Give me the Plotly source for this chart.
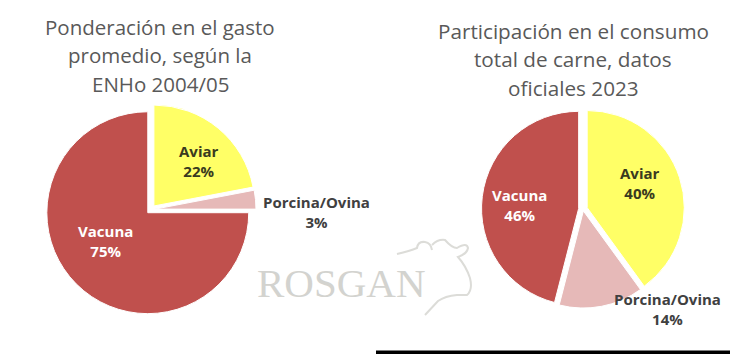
import plotly.graph_objects as go

W, H = 730, 354
categories = ["Aviar", "Porcina/Ovina", "Vacuna"]
values_left = [22, 3, 75]
values_right = [40, 14, 46]
title_left = ["Ponderación en el gasto", "promedio, según la", "ENHo 2004/05"]
title_right = ["Participación en el consumo", "total de carne, datos", "oficiales 2023"]
colors = ["#FFFF66", "#E6B9B8", "#C0504D"]
label_colors = ["#3A3A1E", "#404040", "#FFFFFF"]
pull_left = [0.045, 0.04, 0.045]
pull_right = [0.045, 0.02, 0.045]
label_pos_left = [(199, 161), (316, 212), (105, 241)]
label_pos_right = [(640, 183), (667, 309), (519, 205)]


def dom(cx, cy, half):
    return dict(x=[(cx - half) / W, (cx + half) / W],
                y=[1 - (cy + half) / H, 1 - (cy - half) / H])


fig = go.Figure()
for vals, d, pull in [(values_left, dom(151, 209.5, 105.5), pull_left),
                      (values_right, dom(583, 209, 101.5), pull_right)]:
    fig.add_trace(go.Pie(labels=categories, values=vals, domain=d, pull=pull,
                         sort=False, direction="clockwise", rotation=0,
                         textinfo="none", hoverinfo="label+percent",
                         marker=dict(colors=colors, line=dict(color="#FFFFFF", width=1)),
                         showlegend=False))

ann = []
for vals, pos in [(values_left, label_pos_left), (values_right, label_pos_right)]:
    for cat, v, (x, y), c in zip(categories, vals, pos, label_colors):
        ann.append(dict(text=f"<b>{cat}<br>{v}%</b>", x=x / W, y=1 - y / H, xref="paper", yref="paper",
                        xanchor="center", yanchor="middle", showarrow=False,
                        font=dict(family="Open Sans", size=15, color=c)))
for lines, x, ys, size in [(title_left, 160, (27, 55, 84), 20.5), (title_right, 573, (31, 59, 88), 20.7)]:
    for txt, y in zip(lines, ys):
        ann.append(dict(text=txt, x=x / W, y=1 - y / H, xref="paper", yref="paper", xanchor="center",
                        yanchor="middle", showarrow=False, align="center",
                        font=dict(family="Open Sans", size=size, color="#595959")))
ann.append(dict(text="ROSGAN", x=341 / W, y=1 - 283 / H, xref="paper", yref="paper", xanchor="center",
                yanchor="middle", showarrow=False,
                font=dict(family="Liberation Serif", size=41, color="#D3D3CF")))


def px(x, y):
    return f"{x / W:.4f},{1 - y / H:.4f}"


cow = ("M " + px(397, 254) + " Q " + px(410, 251) + " " + px(417, 248)
       + " Q " + px(418, 241) + " " + px(425, 242) + " Q " + px(431, 243) + " " + px(432, 250)
       + " M " + px(432, 245) + " Q " + px(438, 239) + " " + px(445, 240) + " Q " + px(452, 248) + " " + px(457, 248)
       + " Q " + px(467, 242) + " " + px(468, 248) + " Q " + px(467, 254) + " " + px(458, 257)
       + " Q " + px(466, 266) + " " + px(470, 278) + " Q " + px(473, 290) + " " + px(467, 295)
       + " L " + px(457, 295) + " Q " + px(445, 296) + " " + px(438, 301) + " L " + px(425, 315))
shapes = [
    dict(type="path", xref="paper", yref="paper", path=cow, line=dict(color="#DCDCD8", width=2)),
    dict(type="rect", xref="paper", yref="paper", x0=376 / W, x1=1, y0=0, y1=3.5 / H,
         fillcolor="#000000", line=dict(width=0)),
]

fig.update_layout(width=W, height=H, margin=dict(l=0, r=0, t=0, b=0), paper_bgcolor="#FFFFFF",
                  annotations=ann, shapes=shapes)
fig.write_html("out.html", config=dict(displayModeBar=False),
               post_script="document.body.style.margin='0';")
